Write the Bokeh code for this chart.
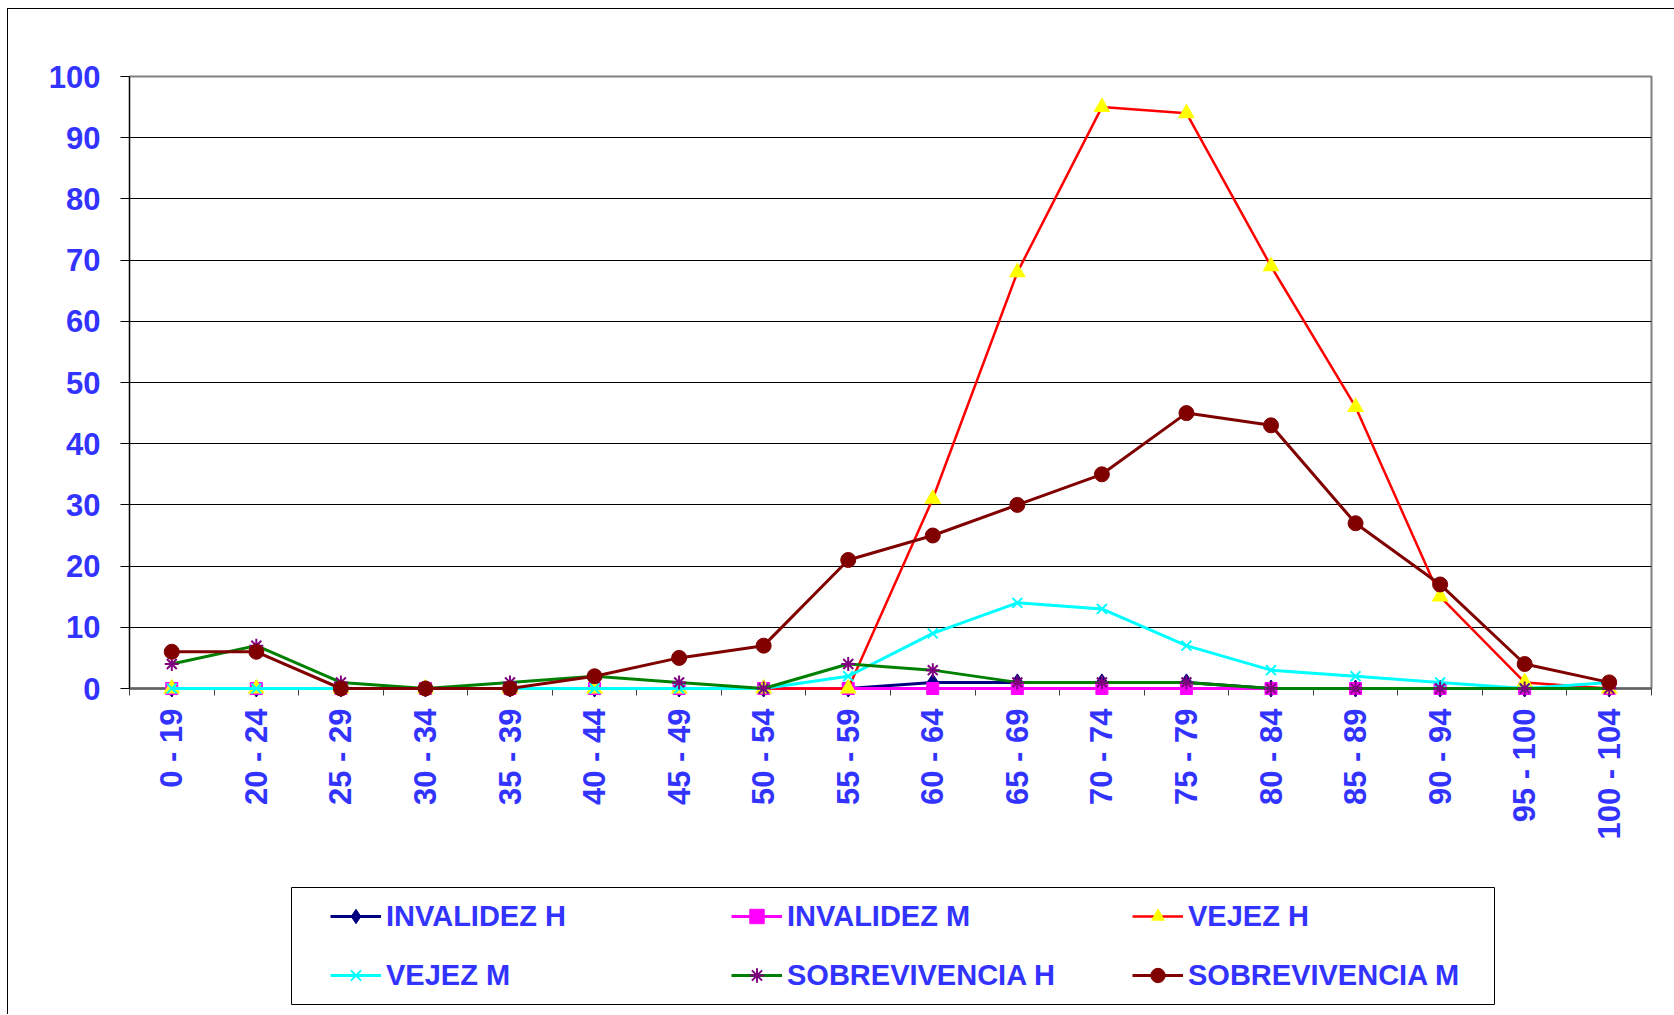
import numpy as np
from bokeh.plotting import figure
from bokeh.layouts import column
from bokeh.models import Range1d, FixedTicker, Legend, LegendItem, BoxAnnotation
from bokeh.embed import file_html
from bokeh.resources import INLINE

categories = ["0 - 19", "20 - 24", "25 - 29", "30 - 34", "35 - 39", "40 - 44",
              "45 - 49", "50 - 54", "55 - 59", "60 - 64", "65 - 69", "70 - 74",
              "75 - 79", "80 - 84", "85 - 89", "90 - 94", "95 - 100", "100 - 104"]
invalidez_h = [0, 0, 0, 0, 0, 0, 0, 0, 0, 1, 1, 1, 1, 0, 0, 0, 0, 0]
invalidez_m = [0, 0, 0, 0, 0, 0, 0, 0, 0, 0, 0, 0, 0, 0, 0, 0, 0, 0]
vejez_h = [0, 0, 0, 0, 0, 0, 0, 0, 0, 31, 68, 95, 94, 69, 46, 15, 1, 0]
vejez_m = [0, 0, 0, 0, 0, 0, 0, 0, 2, 9, 14, 13, 7, 3, 2, 1, 0, 1]
sobrevivencia_h = [4, 7, 1, 0, 1, 2, 1, 0, 4, 3, 1, 1, 1, 0, 0, 0, 0, 0]
sobrevivencia_m = [6, 6, 0, 0, 0, 2, 5, 7, 21, 25, 30, 35, 45, 43, 27, 17, 4, 1]
y_ticks = [0, 10, 20, 30, 40, 50, 60, 70, 80, 90, 100]

x = [i + 0.5 for i in range(len(categories))]
FONT = "Liberation Sans"
BLUE = "#3333FF"

p = figure(width=1666, height=871, output_backend="svg", toolbar_location=None,
           x_range=Range1d(0, len(categories)), y_range=Range1d(0, 100),
           min_border_left=121, min_border_top=67, min_border_right=23,
           min_border_bottom=192)
p.title.visible = False
p.outline_line_color = "#808080"
p.outline_line_width = 2
p.background_fill_color = "white"

# axes
p.yaxis.ticker = FixedTicker(ticks=y_ticks)
p.yaxis.axis_line_color = "black"
p.yaxis.major_tick_out = 9
p.yaxis.major_tick_in = 0
p.yaxis.minor_tick_out = 0
p.yaxis.minor_tick_in = 0
p.yaxis.major_tick_line_color = "black"
p.yaxis.major_label_standoff = 20
p.yaxis.major_label_text_font = FONT
p.yaxis.major_label_text_font_style = "bold"
p.yaxis.major_label_text_font_size = "31px"
p.yaxis.major_label_text_color = BLUE

p.xaxis.ticker = FixedTicker(ticks=x, minor_ticks=list(range(len(categories) + 1)))
p.xaxis.major_label_overrides = {xi: c for xi, c in zip(x, categories)}
p.xaxis.major_label_orientation = np.pi / 2
p.xaxis.major_tick_out = 0
p.xaxis.major_tick_in = 0
p.xaxis.minor_tick_out = 7
p.xaxis.minor_tick_in = 0
p.xaxis.minor_tick_line_color = "#404040"
p.xaxis.axis_line_color = "#606060"
p.xaxis.axis_line_width = 2.5
p.xaxis.major_label_standoff = 13
p.xaxis.major_label_text_font = FONT
p.xaxis.major_label_text_font_style = "bold"
p.xaxis.major_label_text_font_size = "31px"
p.xaxis.major_label_text_color = BLUE

p.xgrid.visible = False
p.ygrid.ticker = FixedTicker(ticks=y_ticks[1:-1])
p.ygrid.grid_line_color = "black"
p.ygrid.grid_line_width = 1

series = [
    ("INVALIDEZ H", invalidez_h, "#000080", 3, "diamond", "#000080", 17),
    ("INVALIDEZ M", invalidez_m, "#FF00FF", 3, "square", "#FF00FF", 12),
    ("VEJEZ H", vejez_h, "#FF0000", 2.5, "triangle", "#FFFF00", 17),
    ("VEJEZ M", vejez_m, "#00FFFF", 3, "x", "#00FFFF", 14),
    ("SOBREVIVENCIA H", sobrevivencia_h, "#008000", 3, "asterisk", "#800080", 14),
    ("SOBREVIVENCIA M", sobrevivencia_m, "#800000", 3, "circle", "#800000", 15),
]


def draw(fig, xs, ys, lc, lw, mk, mc, ms, visible=True, level="glyph"):
    r1 = fig.line(xs, ys, line_color=lc, line_width=lw, visible=visible, level=level)
    if mk in ("x", "asterisk"):
        r2 = fig.scatter(xs, ys, marker=mk, size=ms, line_color=mc, line_width=2,
                         visible=visible, level=level)
    else:
        r2 = fig.scatter(xs, ys, marker=mk, size=ms, fill_color=mc,
                         line_color=None if mk == "triangle" else mc,
                         visible=visible, level=level)
    return [r1, r2]


for name, vals, lc, lw, mk, mc, ms in series:
    draw(p, x, vals, lc, lw, mk, mc, ms, level="overlay")

# legend panel (same side borders as the chart so frames stay aligned)
FW, FH = 1522, 134
p2 = figure(width=1666, height=FH, output_backend="svg", toolbar_location=None,
            x_axis_type=None, y_axis_type=None,
            x_range=Range1d(0, FW), y_range=Range1d(0, FH),
            min_border_left=121, min_border_right=23, min_border_top=0,
            min_border_bottom=0)
p2.title.visible = False
p2.outline_line_color = None
p2.xgrid.visible = False
p2.ygrid.visible = False

items = []
for name, vals, lc, lw, mk, mc, ms in series:
    rs = draw(p2, x, vals, lc, lw, mk, mc, ms, visible=False)
    items.append(LegendItem(label=name, renderers=rs))

box = BoxAnnotation(left=162, right=1365, bottom=10, top=127,
                    fill_color="white", fill_alpha=1,
                    line_color="black", line_width=1, line_alpha=1)
p2.add_layout(box)

leg = Legend(items=items, location=(201, 21), orientation="horizontal", ncols=3,
             padding=0, margin=0, spacing=23, glyph_width=51, glyph_height=36,
             label_standoff=5, label_width=322, label_height=36,
             label_text_font=FONT, label_text_font_style="bold",
             label_text_font_size="29px", label_text_color=BLUE,
             border_line_alpha=0, background_fill_alpha=0,
             inactive_fill_alpha=0, click_policy="none")
p2.add_layout(leg, "center")

layout = column(p, p2, spacing=0,
                styles={"margin-left": "7px", "margin-top": "8px",
                        "border-left": "1px solid black",
                        "border-top": "1px solid black"})

open("out.html", "w").write(file_html(layout, INLINE))
